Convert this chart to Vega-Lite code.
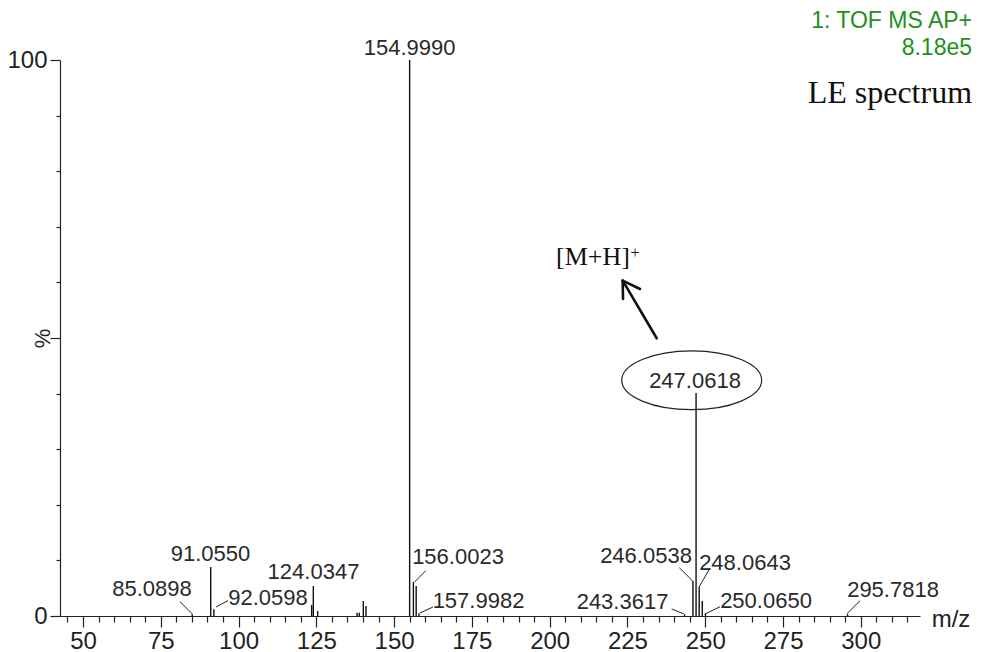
{
  "$schema": "https://vega.github.io/schema/vega-lite/v6.json",
  "width": 860,
  "height": 556,
  "autosize": "none",
  "padding": {"left": 60, "top": 60, "right": 61, "bottom": 36},
  "background": "white",
  "config": {"view": {"stroke": null}},
  "datasets": {
    "peaks": [
      {"mz": 85.0898, "pct": 0.3},
      {"mz": 91.055, "pct": 8.8},
      {"mz": 92.0598, "pct": 1.2},
      {"mz": 123.5, "pct": 2.0},
      {"mz": 124.0347, "pct": 5.4},
      {"mz": 125.44, "pct": 0.9},
      {"mz": 138.08, "pct": 0.6},
      {"mz": 138.8, "pct": 0.6},
      {"mz": 140.1, "pct": 2.7},
      {"mz": 140.97, "pct": 1.8},
      {"mz": 154.999, "pct": 100},
      {"mz": 156.2, "pct": 6.1},
      {"mz": 157.1, "pct": 5.4},
      {"mz": 157.9982, "pct": 0.5},
      {"mz": 243.3617, "pct": 0.3},
      {"mz": 246.0538, "pct": 6.3},
      {"mz": 247.0618, "pct": 40.1},
      {"mz": 248.0643, "pct": 5.2},
      {"mz": 249.06, "pct": 2.7},
      {"mz": 250.065, "pct": 0.5},
      {"mz": 295.7818, "pct": 0.3}
    ],
    "labels": [
      {"mz": 155.0, "pct": 100.9, "text": "154.9990"},
      {"mz": 90.98, "pct": 9.89, "text": "91.0550"},
      {"mz": 72.18, "pct": 3.6, "text": "85.0898"},
      {"mz": 109.47, "pct": 1.98, "text": "92.0598"},
      {"mz": 124.09, "pct": 6.65, "text": "124.0347"},
      {"mz": 170.54, "pct": 9.35, "text": "156.0023"},
      {"mz": 177.13, "pct": 1.44, "text": "157.9982"},
      {"mz": 223.42, "pct": 1.26, "text": "243.3617"},
      {"mz": 230.97, "pct": 9.53, "text": "246.0538"},
      {"mz": 262.79, "pct": 8.27, "text": "248.0643"},
      {"mz": 269.54, "pct": 1.44, "text": "250.0650"},
      {"mz": 310.37, "pct": 3.42, "text": "295.7818"},
      {"mz": 246.72, "pct": 41.0, "text": "247.0618"}
    ],
    "leaders": [
      {"mz": 81.18, "pct": 2.57, "mz2": 85.26, "pct2": 0.31},
      {"mz": 92.77, "pct": 1.62, "mz2": 96.63, "pct2": 2.79},
      {"mz": 156.49, "pct": 6.06, "mz2": 160.16, "pct2": 8.15},
      {"mz": 158.32, "pct": 0.54, "mz2": 162.5, "pct2": 1.62},
      {"mz": 239.23, "pct": 1.26, "mz2": 243.18, "pct2": 0.36},
      {"mz": 241.67, "pct": 8.69, "mz2": 245.98, "pct2": 6.29},
      {"mz": 251.55, "pct": 8.63, "mz2": 248.02, "pct2": 5.22},
      {"mz": 249.94, "pct": 0.36, "mz2": 254.76, "pct2": 1.67},
      {"mz": 295.48, "pct": 0.36, "mz2": 299.76, "pct2": 2.75}
    ],
    "arrow": [
      {"mz": 234.41, "pct": 49.95, "mz2": 223.48, "pct2": 60.31},
      {"mz": 223.58, "pct": 57.01, "mz2": 223.48, "pct2": 60.31},
      {"mz": 229.05, "pct": 58.81, "mz2": 223.48, "pct2": 60.31}
    ],
    "ellipse": [{"mz": 245.66, "pct": 42.39}],
    "ion": [{"mz": 213.94, "pct": 63.13, "text": "[M+H]"}],
    "ionsup": [{"mz": 227.44, "pct": 64.39, "text": "+"}],
    "title": [{"mz": 335.76, "pct": 92.27, "text": "LE spectrum"}],
    "instrument": [
      {"mz": 335.76, "pct": 105.76, "text": "1: TOF MS AP+"},
      {"mz": 335.76, "pct": 100.9, "text": "8.18e5"}
    ],
    "unit": [{"mz": 329.0, "pct": -1.98, "text": "m/z"}]
  },
  "layer": [
    {
      "data": {"name": "peaks"},
      "mark": {"type": "rule", "color": "#111", "strokeWidth": 1.4},
      "encoding": {
        "x": {
          "field": "mz", "type": "quantitative",
          "scale": {"domain": [42.61, 319.04], "nice": false, "zero": false},
          "axis": {
            "title": null,
            "grid": false,
            "tickCount": 100,
            "values": [45,50,55,60,65,70,75,80,85,90,95,100,105,110,115,120,125,130,135,140,145,150,155,160,165,170,175,180,185,190,195,200,205,210,215,220,225,230,235,240,245,250,255,260,265,270,275,280,285,290,295,300,305,310,315],
            "labelExpr": "datum.value % 25 === 0 ? datum.label : ''",
            "tickSize": {"condition": {"test": "datum.value % 25 === 0", "value": 11}, "value": 6},
            "tickColor": "#222",
            "tickWidth": 1.2,
            "domainColor": "#222",
            "domainWidth": 1.2,
            "labelFont": "Liberation Sans",
            "labelFontSize": 24,
            "labelColor": "#222",
            "labelPadding": 2,
            "labelFlush": false,
            "labelOverlap": false
          }
        },
        "y": {
          "field": "pct", "type": "quantitative",
          "scale": {"domain": [0, 100], "nice": false},
          "axis": {
            "title": "%",
            "grid": false,
            "tickCount": 20,
            "values": [0,10,20,30,40,50,60,70,80,90,100],
            "labelExpr": "datum.value === 0 || datum.value === 100 ? datum.label : ''",
            "tickSize": {"condition": {"test": "datum.value % 50 === 0", "value": 10}, "value": 4},
            "tickColor": "#222",
            "tickWidth": 1.2,
            "domainColor": "#222",
            "domainWidth": 1.2,
            "labelFont": "Liberation Sans",
            "labelFontSize": 24,
            "labelColor": "#222",
            "labelPadding": 3,
            "labelFlush": false,
            "labelOverlap": false,
            "titleFont": "Liberation Sans",
            "titleFontSize": 22,
            "titleFontWeight": "normal",
            "titleColor": "#222",
            "titleAngle": -90,
            "titleAlign": "center",
            "titleBaseline": "middle",
            "titleX": -18,
            "titleY": 278
          }
        },
        "y2": {"datum": 0}
      }
    },
    {
      "data": {"name": "leaders"},
      "mark": {"type": "rule", "color": "#222", "strokeWidth": 1},
      "encoding": {
        "x": {"field": "mz", "type": "quantitative"},
        "x2": {"field": "mz2"},
        "y": {"field": "pct", "type": "quantitative"},
        "y2": {"field": "pct2"}
      }
    },
    {
      "data": {"name": "arrow"},
      "mark": {"type": "rule", "color": "#111", "strokeWidth": 2.6, "strokeCap": "round"},
      "encoding": {
        "x": {"field": "mz", "type": "quantitative"},
        "x2": {"field": "mz2"},
        "y": {"field": "pct", "type": "quantitative"},
        "y2": {"field": "pct2"}
      }
    },
    {
      "data": {"name": "ellipse"},
      "mark": {"type": "point", "filled": false, "stroke": "#222", "strokeWidth": 1.2, "opacity": 1, "size": 19600, "shape": "M-1,0A1,0.42,0,1,0,1,0A1,0.42,0,1,0,-1,0Z"},
      "encoding": {
        "x": {"field": "mz", "type": "quantitative"},
        "y": {"field": "pct", "type": "quantitative"}
      }
    },
    {
      "data": {"name": "labels"},
      "mark": {"type": "text", "font": "Liberation Sans", "fontSize": 22, "color": "#2a2a2a", "align": "center", "baseline": "alphabetic"},
      "encoding": {
        "x": {"field": "mz", "type": "quantitative"},
        "y": {"field": "pct", "type": "quantitative"},
        "text": {"field": "text"}
      }
    },
    {
      "data": {"name": "ion"},
      "mark": {"type": "text", "font": "Liberation Serif", "fontSize": 26, "color": "#111", "align": "center", "baseline": "alphabetic"},
      "encoding": {
        "x": {"field": "mz", "type": "quantitative"},
        "y": {"field": "pct", "type": "quantitative"},
        "text": {"field": "text"}
      }
    },
    {
      "data": {"name": "ionsup"},
      "mark": {"type": "text", "font": "Liberation Serif", "fontSize": 16, "color": "#111", "align": "center", "baseline": "alphabetic"},
      "encoding": {
        "x": {"field": "mz", "type": "quantitative"},
        "y": {"field": "pct", "type": "quantitative"},
        "text": {"field": "text"}
      }
    },
    {
      "data": {"name": "title"},
      "mark": {"type": "text", "font": "Liberation Serif", "fontSize": 32, "color": "#111", "align": "right", "baseline": "alphabetic"},
      "encoding": {
        "x": {"field": "mz", "type": "quantitative"},
        "y": {"field": "pct", "type": "quantitative"},
        "text": {"field": "text"}
      }
    },
    {
      "data": {"name": "instrument"},
      "mark": {"type": "text", "font": "Liberation Sans", "fontSize": 23, "color": "#1f8f1f", "align": "right", "baseline": "alphabetic"},
      "encoding": {
        "x": {"field": "mz", "type": "quantitative"},
        "y": {"field": "pct", "type": "quantitative"},
        "text": {"field": "text"}
      }
    },
    {
      "data": {"name": "unit"},
      "mark": {"type": "text", "font": "Liberation Sans", "fontSize": 24, "color": "#222", "align": "center", "baseline": "alphabetic"},
      "encoding": {
        "x": {"field": "mz", "type": "quantitative"},
        "y": {"field": "pct", "type": "quantitative"},
        "text": {"field": "text"}
      }
    }
  ]
}
